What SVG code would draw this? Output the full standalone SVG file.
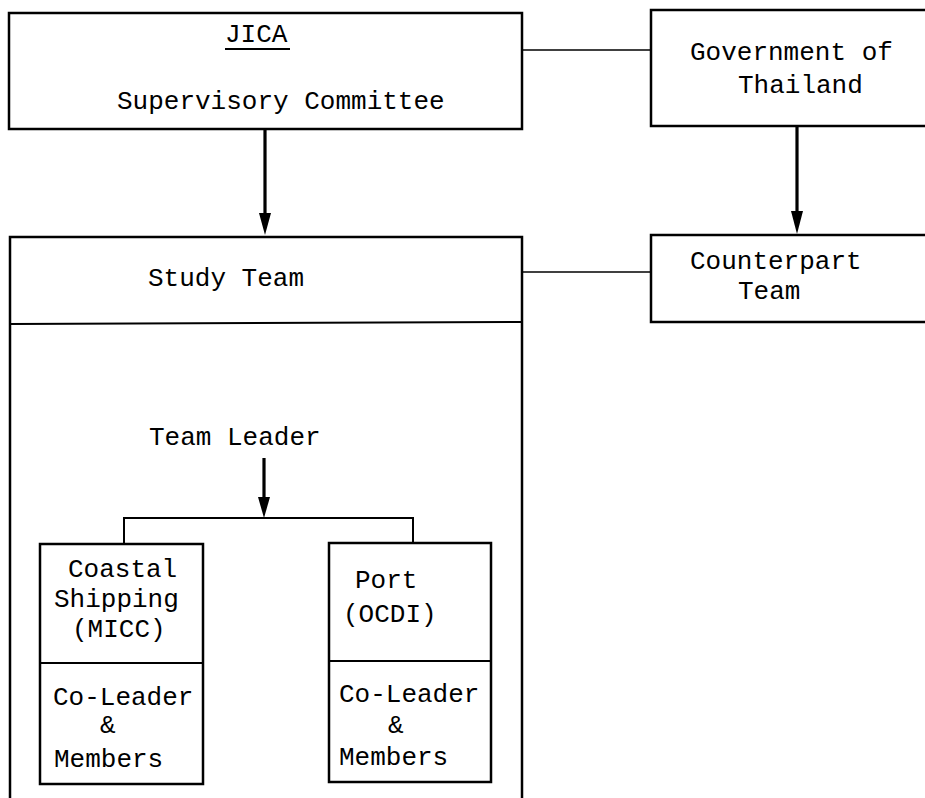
<svg xmlns="http://www.w3.org/2000/svg" width="925" height="798" viewBox="0 0 925 798">
<style>
.box{fill:none;stroke:#000;stroke-width:2.5}
.div{fill:none;stroke:#000;stroke-width:2}
.ln{fill:none;stroke:#000;stroke-width:1.6}
.arr{fill:none;stroke:#000;stroke-width:3.2}
text{font-family:"Liberation Mono","Courier New",monospace;font-size:26px;fill:#000}
</style>
<defs>
<marker id="ah" viewBox="0 0 10 20" refX="5" refY="20" markerWidth="10" markerHeight="20" markerUnits="userSpaceOnUse" orient="auto-start-reverse">
</marker>
</defs>
<rect width="925" height="798" fill="#fff"/>
<g id="jica">
<rect class="box" x="9" y="13" width="513" height="116"/>
<text x="225" y="42">JICA</text>
<line x1="225" y1="49" x2="290" y2="49" stroke="#000" stroke-width="2"/>
<text x="117" y="109">Supervisory Committee</text>
</g>
<g id="government">
<rect class="box" x="651" y="10" width="290" height="116"/>
<text x="690" y="60">Government of</text>
<text x="738" y="93">Thailand</text>
</g>
<g id="study-team">
<rect class="box" x="10" y="237" width="512" height="580"/>
<line class="div" x1="10" y1="324" x2="522" y2="322"/>
<text x="148" y="286">Study Team</text>
<text x="149" y="445">Team Leader</text>
</g>
<g id="counterpart">
<rect class="box" x="651" y="235" width="290" height="87"/>
<text x="690" y="269">Counterpart</text>
<text x="738" y="299">Team</text>
</g>
<g id="coastal">
<rect class="box" x="40" y="544" width="163" height="240"/>
<line class="div" x1="40" y1="663" x2="203" y2="663"/>
<text x="68" y="577">Coastal</text>
<text x="54" y="607">Shipping</text>
<text x="72" y="637">(MICC)</text>
<text x="53" y="705">Co-Leader</text>
<text x="100" y="733">&amp;</text>
<text x="54" y="767">Members</text>
</g>
<g id="port">
<rect class="box" x="329" y="543" width="162" height="239"/>
<line class="div" x1="329" y1="661" x2="491" y2="661"/>
<text x="355" y="588">Port</text>
<text x="343" y="622">(OCDI)</text>
<text x="339" y="702">Co-Leader</text>
<text x="388" y="733">&amp;</text>
<text x="339" y="765">Members</text>
</g>
<g id="connectors">
<line class="ln" x1="522" y1="50" x2="651" y2="50"/>
<line class="ln" x1="522" y1="272" x2="651" y2="272"/>
<line class="arr" x1="265" y1="129" x2="265" y2="216"/>
<polygon points="259,213 271,213 265,235" fill="#000"/>
<line class="arr" x1="797" y1="126" x2="797" y2="214"/>
<polygon points="791,211 803,211 797,234" fill="#000"/>
<line class="arr" x1="264" y1="458" x2="264" y2="500"/>
<polygon points="258,497 270,497 264,518" fill="#000"/>
<polyline class="div" points="124,543 124,518 413,518 413,543"/>
</g>
</svg>
